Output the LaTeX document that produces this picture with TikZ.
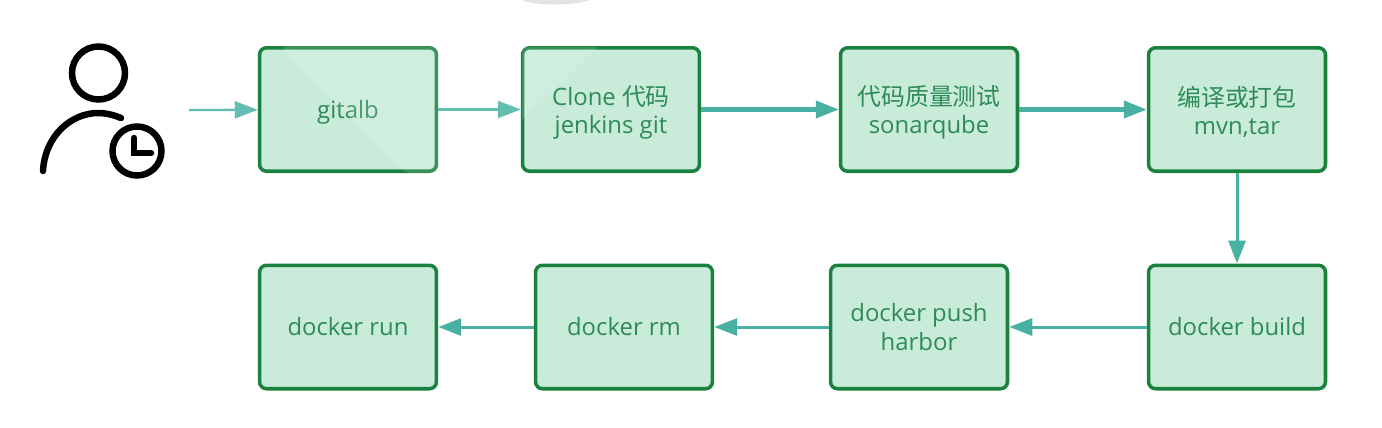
\documentclass[tikz,border=0pt]{standalone}
\usepackage{fontspec}
\setmainfont{Open Sans}
\newfontfamily\cjk{Noto Sans CJK SC}
\usetikzlibrary{arrows.meta}
\definecolor{boxfill}{HTML}{C9ECDA}
\definecolor{boxline}{HTML}{1B813E}
\definecolor{boxtext}{HTML}{2E8B57}
\definecolor{flowline}{HTML}{48B1A3}
\newcommand{\lowered}[1]{\raisebox{-1.6pt}[\height][\depth]{#1}}
\tikzset{
    stagebox/.style={draw=boxline, fill=boxfill, line width=2pt, rounded corners=4pt,
        minimum width=3.54cm, minimum height=2.47cm, align=center, text=boxtext,
        font=\fontsize{13.6}{16}\selectfont},
    flow/.style={-{Triangle[length=0.46cm,width=0.34cm]}, draw=flowline, line width=1.7pt},
    flowthin/.style={flow, draw=flowline!85, line width=1.3pt},
    icon/.style={draw=black, line width=3.7pt, line cap=round}
}
\begin{document}
\begin{tikzpicture}[x=0.02cm, y=-0.02cm]
    \useasboundingbox (0,0) rectangle (1382,427);

    % Smudge at the top edge
    \fill[gray!22] (522,0) .. controls (535,6) and (575,6) .. (590,0) -- cycle;

    % Top row
    \node[stagebox] (gitalb) at (348,109.5) {\lowered{gitalb}};
    \node[stagebox] (clone) at (611,109.5) {\lowered{Clone {\cjk 代码}}\\\lowered{jenkins git}};
    \node[stagebox] (sonar) at (929,109.5) {\lowered{\cjk 代码质量测试}\\\lowered{sonarqube}};
    \node[stagebox] (package) at (1237,109.5) {\lowered{\cjk 编译或打包}\\\lowered{mvn,tar}};

    % Bottom row
    \node[stagebox] (build) at (1237,327) {docker build};
    \node[stagebox] (push) at (919,327) {docker push\\harbor};
    \node[stagebox] (rm) at (624,327) {docker rm};
    \node[stagebox] (run) at (348,327) {docker run};

    % Light streaks over the first two boxes
    \fill[white, opacity=0.14, rounded corners=4pt] (280,46) -- (438,46) -- (438,173) -- (405,173) -- cycle;
    \fill[white, opacity=0.14] (525,47) -- (598,47) -- (522,120) -- (522,50) -- cycle;

    % Person with clock
    \draw[icon] (98.5,73) circle (26.5);
    \draw[icon] (43,171) .. controls (45,135) and (72,113) .. (98,113) .. controls (106,113) and (114,115) .. (121,118);
    \draw[icon] (137,151) circle (24.5);
    \draw[icon] (134,138) -- (134,153) -- (151,153);
    \coordinate (user) at (189,110);

    % Arrows
    \draw[flowthin] (user) -- (gitalb);
    \draw[flowthin] (gitalb) -- (clone);
    \draw[flow, line width=2.3pt] (clone) -- (sonar);
    \draw[flow, line width=2.3pt] (sonar) -- (package);
    \draw[flow] (package) -- (build);
    \draw[flow] (build) -- (push);
    \draw[flow] (push) -- (rm);
    \draw[flow] (rm) -- (run);
\end{tikzpicture}
\end{document}
